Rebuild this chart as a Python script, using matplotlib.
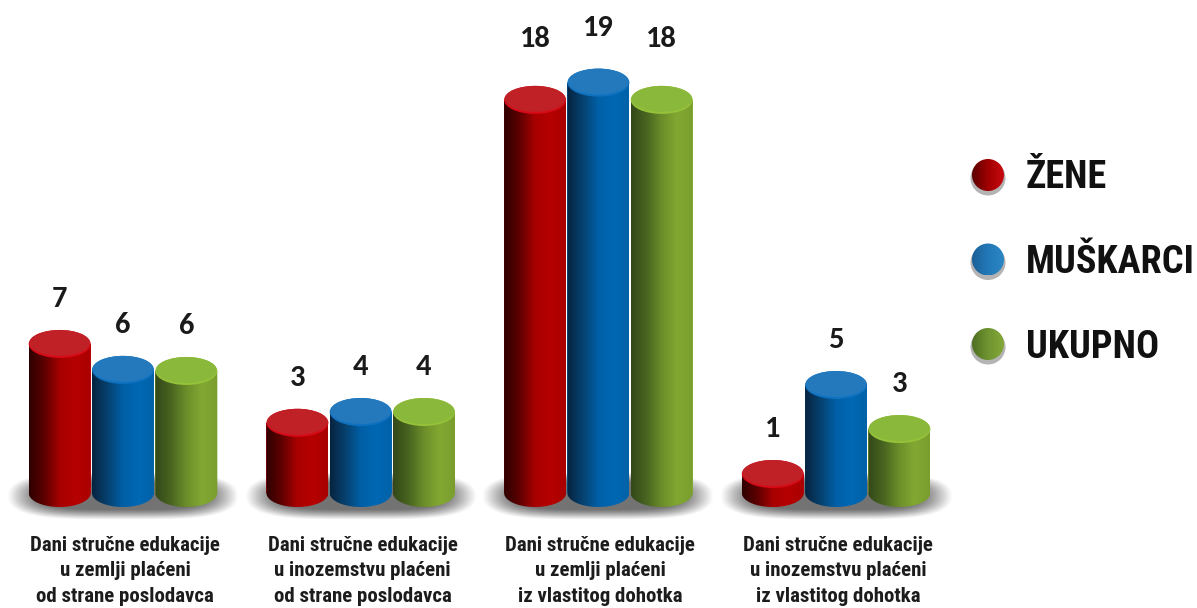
import numpy as np
import matplotlib
matplotlib.use('Agg')
import matplotlib.pyplot as plt
from matplotlib.colors import LinearSegmentedColormap
from matplotlib.patches import Ellipse, PathPatch
from matplotlib.path import Path

categories = ['Dani stručne edukacije\nu zemlji plaćeni\nod strane poslodavca',
              'Dani stručne edukacije\nu inozemstvu plaćeni\nod strane poslodavca',
              'Dani stručne edukacije\nu zemlji plaćeni\niz vlastitog dohotka',
              'Dani stručne edukacije\nu inozemstvu plaćeni\niz vlastitog dohotka']
series_names = ['ŽENE', 'MUŠKARCI', 'UKUPNO']
zene = [6.9, 3.25, 18.2, 0.88]
muskarci = [5.7, 3.75, 19.0, 5.0]
ukupno = [5.65, 3.75, 18.2, 2.96]

W, H = 1197, 608
PX_GROUP = 237.7      # px between groups
PX_UNIT = 21.6        # px per value unit
X0, Y0 = 123, 493     # px of first group centre / baseline
NARROW = ['Roboto Condensed', 'PT Sans Narrow', 'Archivo Narrow', 'Roboto']
NUMS = ['Carlito', 'Lato']

body_cm = [LinearSegmentedColormap.from_list('r', ['#2e0000', '#5e0000', '#a80000', '#b60000', '#a80000']),
           LinearSegmentedColormap.from_list('b', ['#06233f', '#07416f', '#005fa6', '#0068b4', '#0062a8']),
           LinearSegmentedColormap.from_list('g', ['#33481a', '#486420', '#6c8e2a', '#82a832', '#7a9e2e'])]
top_col = ['#bf2126', '#2479bd', '#8ab83a']
rim_col = ['#d80a18', '#0e72c0', '#96c23a']
ball_cm = [LinearSegmentedColormap.from_list('r2', ['#5a0000', '#a00000', '#c80a10']),
           LinearSegmentedColormap.from_list('b2', ['#1b5f96', '#2279b8', '#2b86c4']),
           LinearSegmentedColormap.from_list('g2', ['#4f6f24', '#6f9430', '#85a838'])]

fig = plt.figure(figsize=(W/100, H/100), dpi=100)
ax = fig.add_axes([0, 0, 1, 1])
xlim = (-X0/PX_GROUP, (W-X0)/PX_GROUP)
ylim = ((Y0-H)/PX_UNIT, Y0/PX_UNIT)
ax.axis('off')

bw = 62/PX_GROUP
step = 63.3/PX_GROUP
eh = 14/PX_UNIT   # ellipse half height in value units
grad = np.linspace(0, 1, 256).reshape(1, -1)

# soft grey shadow under each group
nx, ny = 300, 80
gx, gy = np.meshgrid(np.linspace(-1, 1, nx), np.linspace(-1, 1, ny))
sh = np.zeros((ny, nx, 4))
sh[..., :3] = 0.42
sh[..., 3] = np.clip(1.35*(1-(np.abs(gx)**4+np.abs(gy)**2.4)), 0, 1)**1.2*0.95
for g in range(len(categories)):
    ax.imshow(sh, extent=(g-116/PX_GROUP, g+116/PX_GROUP, -27/PX_UNIT, 20/PX_UNIT),
              aspect='auto', zorder=1, interpolation='bilinear')

all_series = [zene, muskarci, ukupno]
for s, vals in enumerate(all_series):
    xs = np.arange(len(vals)) + (s-1)*step
    bars = ax.bar(xs, vals, bw, color=rim_col[s], zorder=2+s)
    for x, v, b in zip(xs, vals, bars):
        th = np.linspace(np.pi, 2*np.pi, 60)
        vx = np.r_[x-bw/2, x+bw*0.5*np.cos(th), x+bw/2, x-bw/2]
        vy = np.r_[v, eh*np.sin(th), v, v]
        clip = PathPatch(Path(np.c_[vx, vy]), transform=ax.transData, fc='none', ec='none')
        ax.add_patch(clip)
        im = ax.imshow(grad, cmap=body_cm[s], extent=(x-bw/2, x+bw/2, -eh, v),
                       aspect='auto', zorder=2+s)
        im.set_clip_path(clip)
        ax.add_patch(Ellipse((x, v), bw, 2*eh, fc=rim_col[s], ec='none', zorder=2+s))
        ax.add_patch(Ellipse((x, v+1/PX_UNIT), bw*0.98, 2*eh-2/PX_UNIT, fc=top_col[s], ec='none', zorder=2+s))
        # value label, the tall group sits further above its bars
        pad = 31
        if v > 18.5:
            pad = 41
        elif v > 10:
            pad = 47
        ax.text(x, v+eh+pad/PX_UNIT, '%.0f' % v, ha='center', va='center', fontsize=22,
                family=NUMS, fontweight='bold', color='#1a1a1a', zorder=10)

for g, cat in enumerate(categories):
    ax.text(g+2/PX_GROUP, -43/PX_UNIT, cat, ha='center', va='top', fontsize=15, family=NARROW,
            fontweight='bold', color='#1c1c1c', linespacing=1.42, zorder=10)

ax.set_xlim(*xlim)
ax.set_ylim(*ylim)

# legend drawn on a pixel axes
lax = fig.add_axes([0, 0, 1, 1], facecolor='none')
lax.axis('off')
for i, name in enumerate(series_names):
    yc = 175+84.5*i
    lax.add_patch(Ellipse((988, yc+3), 35, 35, fc='#777777', ec='none', alpha=0.55, zorder=1))
    clip = Ellipse((988, yc), 32, 32, fc='none', ec='none', zorder=1)
    lax.add_patch(clip)
    im = lax.imshow(grad, cmap=ball_cm[i], extent=(972, 1004, yc+16, yc-16), aspect='auto', zorder=2)
    im.set_clip_path(clip)
    lax.text(1026, yc+3, name, ha='left', va='center', fontsize=27.5, family=NARROW,
             fontweight='bold', color='#111111', zorder=3)
lax.set_xlim(0, W)
lax.set_ylim(H, 0)

plt.savefig('out.png', dpi=100)
